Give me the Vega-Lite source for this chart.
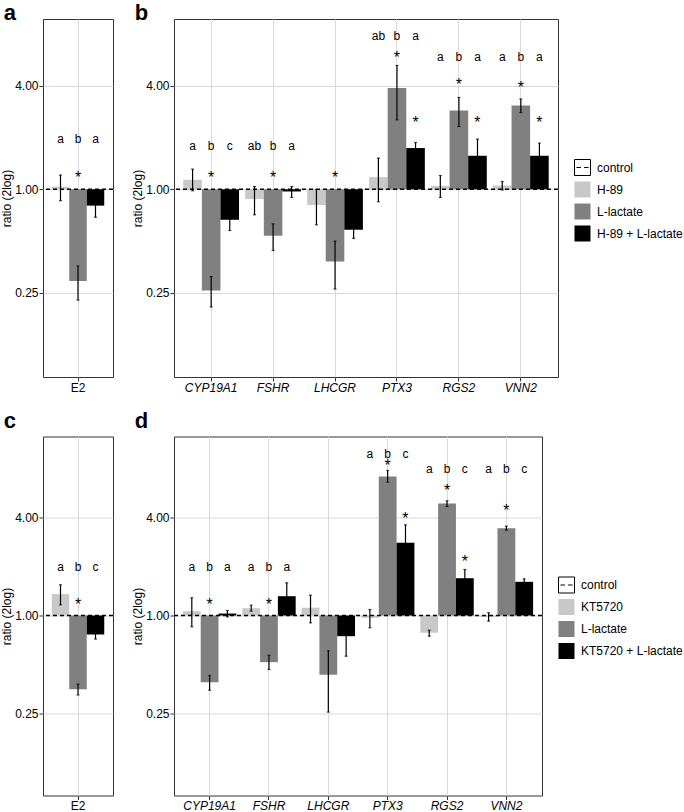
{
  "$schema": "https://vega.github.io/schema/vega-lite/v6.json",
  "padding": {"left": 0, "top": 1, "right": 0, "bottom": 0},
  "background": "white",
  "datasets": {
    "bars": [
      {"p": "a", "gene": "E2", "trt": "H-89", "v": 1.035, "lo": 0.858, "hi": 1.21},
      {"p": "a", "gene": "E2", "trt": "L-lactate", "v": 0.292, "lo": 0.226, "hi": 0.357},
      {"p": "a", "gene": "E2", "trt": "H-89 + L-lactate", "v": 0.803, "lo": 0.687, "hi": 0.919},
      {"p": "b", "gene": "CYP19A1", "trt": "H-89", "v": 1.136, "lo": 0.98, "hi": 1.311},
      {"p": "b", "gene": "CYP19A1", "trt": "L-lactate", "v": 0.257, "lo": 0.206, "hi": 0.31},
      {"p": "b", "gene": "CYP19A1", "trt": "H-89 + L-lactate", "v": 0.664, "lo": 0.575, "hi": 0.753},
      {"p": "b", "gene": "FSHR", "trt": "H-89", "v": 0.877, "lo": 0.71, "hi": 1.038},
      {"p": "b", "gene": "FSHR", "trt": "L-lactate", "v": 0.536, "lo": 0.44, "hi": 0.629},
      {"p": "b", "gene": "FSHR", "trt": "H-89 + L-lactate", "v": 0.971, "lo": 0.896, "hi": 1.038},
      {"p": "b", "gene": "LHCGR", "trt": "H-89", "v": 0.809, "lo": 0.621, "hi": 0.997},
      {"p": "b", "gene": "LHCGR", "trt": "L-lactate", "v": 0.379, "lo": 0.262, "hi": 0.499},
      {"p": "b", "gene": "LHCGR", "trt": "H-89 + L-lactate", "v": 0.581, "lo": 0.517, "hi": 0.645},
      {"p": "b", "gene": "PTX3", "trt": "H-89", "v": 1.178, "lo": 0.846, "hi": 1.52},
      {"p": "b", "gene": "PTX3", "trt": "L-lactate", "v": 3.89, "lo": 2.54, "hi": 5.27},
      {"p": "b", "gene": "PTX3", "trt": "H-89 + L-lactate", "v": 1.739, "lo": 1.6, "hi": 1.874},
      {"p": "b", "gene": "RGS2", "trt": "H-89", "v": 1.044, "lo": 0.896, "hi": 1.203},
      {"p": "b", "gene": "RGS2", "trt": "L-lactate", "v": 2.88, "lo": 2.32, "hi": 3.43},
      {"p": "b", "gene": "RGS2", "trt": "H-89 + L-lactate", "v": 1.568, "lo": 1.17, "hi": 1.962},
      {"p": "b", "gene": "VNN2", "trt": "H-89", "v": 1.052, "lo": 0.99, "hi": 1.11},
      {"p": "b", "gene": "VNN2", "trt": "L-lactate", "v": 3.08, "lo": 2.8, "hi": 3.36},
      {"p": "b", "gene": "VNN2", "trt": "H-89 + L-lactate", "v": 1.568, "lo": 1.28, "hi": 1.859},
      {"p": "c", "gene": "E2", "trt": "KT5720", "v": 1.352, "lo": 1.163, "hi": 1.542},
      {"p": "c", "gene": "E2", "trt": "L-lactate", "v": 0.354, "lo": 0.326, "hi": 0.38},
      {"p": "c", "gene": "E2", "trt": "KT5720 + L-lactate", "v": 0.765, "lo": 0.717, "hi": 0.81},
      {"p": "d", "gene": "CYP19A1", "trt": "KT5720", "v": 1.063, "lo": 0.853, "hi": 1.284},
      {"p": "d", "gene": "CYP19A1", "trt": "L-lactate", "v": 0.39, "lo": 0.349, "hi": 0.429},
      {"p": "d", "gene": "CYP19A1", "trt": "KT5720 + L-lactate", "v": 1.028, "lo": 0.98, "hi": 1.073},
      {"p": "d", "gene": "FSHR", "trt": "KT5720", "v": 1.108, "lo": 1.063, "hi": 1.157},
      {"p": "d", "gene": "FSHR", "trt": "L-lactate", "v": 0.518, "lo": 0.467, "hi": 0.571},
      {"p": "d", "gene": "FSHR", "trt": "KT5720 + L-lactate", "v": 1.313, "lo": 1.04, "hi": 1.586},
      {"p": "d", "gene": "LHCGR", "trt": "KT5720", "v": 1.115, "lo": 0.902, "hi": 1.331},
      {"p": "d", "gene": "LHCGR", "trt": "L-lactate", "v": 0.433, "lo": 0.256, "hi": 0.608},
      {"p": "d", "gene": "LHCGR", "trt": "KT5720 + L-lactate", "v": 0.747, "lo": 0.563, "hi": 0.93},
      {"p": "d", "gene": "PTX3", "trt": "KT5720", "v": 0.968, "lo": 0.841, "hi": 1.088},
      {"p": "d", "gene": "PTX3", "trt": "L-lactate", "v": 7.1, "lo": 6.55, "hi": 7.73},
      {"p": "d", "gene": "PTX3", "trt": "KT5720 + L-lactate", "v": 2.788, "lo": 1.99, "hi": 3.59},
      {"p": "d", "gene": "RGS2", "trt": "KT5720", "v": 0.784, "lo": 0.747, "hi": 0.813},
      {"p": "d", "gene": "RGS2", "trt": "L-lactate", "v": 4.85, "lo": 4.65, "hi": 5.04},
      {"p": "d", "gene": "RGS2", "trt": "KT5720 + L-lactate", "v": 1.692, "lo": 1.47, "hi": 1.913},
      {"p": "d", "gene": "VNN2", "trt": "KT5720", "v": 0.98, "lo": 0.923, "hi": 1.04},
      {"p": "d", "gene": "VNN2", "trt": "L-lactate", "v": 3.42, "lo": 3.33, "hi": 3.52},
      {"p": "d", "gene": "VNN2", "trt": "KT5720 + L-lactate", "v": 1.608, "lo": 1.54, "hi": 1.677}
    ],
    "labels": [
      {"p": "a", "gene": "E2", "trt": "H-89", "k": "l", "t": "a", "y": 1.956},
      {"p": "a", "gene": "E2", "trt": "L-lactate", "k": "l", "t": "b", "y": 1.956},
      {"p": "a", "gene": "E2", "trt": "H-89 + L-lactate", "k": "l", "t": "a", "y": 1.956},
      {"p": "a", "gene": "E2", "trt": "L-lactate", "k": "s", "t": "*", "y": 1.24},
      {"p": "b", "gene": "CYP19A1", "trt": "H-89", "k": "l", "t": "a", "y": 1.776},
      {"p": "b", "gene": "CYP19A1", "trt": "L-lactate", "k": "l", "t": "b", "y": 1.776},
      {"p": "b", "gene": "CYP19A1", "trt": "H-89 + L-lactate", "k": "l", "t": "c", "y": 1.776},
      {"p": "b", "gene": "FSHR", "trt": "H-89", "k": "l", "t": "ab", "y": 1.776},
      {"p": "b", "gene": "FSHR", "trt": "L-lactate", "k": "l", "t": "b", "y": 1.776},
      {"p": "b", "gene": "FSHR", "trt": "H-89 + L-lactate", "k": "l", "t": "a", "y": 1.776},
      {"p": "b", "gene": "PTX3", "trt": "H-89", "k": "l", "t": "ab", "y": 7.85},
      {"p": "b", "gene": "PTX3", "trt": "L-lactate", "k": "l", "t": "b", "y": 7.85},
      {"p": "b", "gene": "PTX3", "trt": "H-89 + L-lactate", "k": "l", "t": "a", "y": 7.85},
      {"p": "b", "gene": "RGS2", "trt": "H-89", "k": "l", "t": "a", "y": 5.94},
      {"p": "b", "gene": "RGS2", "trt": "L-lactate", "k": "l", "t": "b", "y": 5.94},
      {"p": "b", "gene": "RGS2", "trt": "H-89 + L-lactate", "k": "l", "t": "a", "y": 5.94},
      {"p": "b", "gene": "VNN2", "trt": "H-89", "k": "l", "t": "a", "y": 5.94},
      {"p": "b", "gene": "VNN2", "trt": "L-lactate", "k": "l", "t": "b", "y": 5.94},
      {"p": "b", "gene": "VNN2", "trt": "H-89 + L-lactate", "k": "l", "t": "a", "y": 5.94},
      {"p": "b", "gene": "CYP19A1", "trt": "L-lactate", "k": "s", "t": "*", "y": 1.243},
      {"p": "b", "gene": "FSHR", "trt": "L-lactate", "k": "s", "t": "*", "y": 1.243},
      {"p": "b", "gene": "LHCGR", "trt": "L-lactate", "k": "s", "t": "*", "y": 1.243},
      {"p": "b", "gene": "PTX3", "trt": "L-lactate", "k": "s", "t": "*", "y": 6.22},
      {"p": "b", "gene": "PTX3", "trt": "H-89 + L-lactate", "k": "s", "t": "*", "y": 2.6},
      {"p": "b", "gene": "RGS2", "trt": "L-lactate", "k": "s", "t": "*", "y": 4.35},
      {"p": "b", "gene": "RGS2", "trt": "H-89 + L-lactate", "k": "s", "t": "*", "y": 2.6},
      {"p": "b", "gene": "VNN2", "trt": "L-lactate", "k": "s", "t": "*", "y": 4.16},
      {"p": "b", "gene": "VNN2", "trt": "H-89 + L-lactate", "k": "s", "t": "*", "y": 2.6},
      {"p": "c", "gene": "E2", "trt": "KT5720", "k": "l", "t": "a", "y": 1.968},
      {"p": "c", "gene": "E2", "trt": "L-lactate", "k": "l", "t": "b", "y": 1.968},
      {"p": "c", "gene": "E2", "trt": "KT5720 + L-lactate", "k": "l", "t": "c", "y": 1.968},
      {"p": "c", "gene": "E2", "trt": "L-lactate", "k": "s", "t": "*", "y": 1.236},
      {"p": "d", "gene": "CYP19A1", "trt": "KT5720", "k": "l", "t": "a", "y": 1.987},
      {"p": "d", "gene": "CYP19A1", "trt": "L-lactate", "k": "l", "t": "b", "y": 1.987},
      {"p": "d", "gene": "CYP19A1", "trt": "KT5720 + L-lactate", "k": "l", "t": "a", "y": 1.987},
      {"p": "d", "gene": "FSHR", "trt": "KT5720", "k": "l", "t": "a", "y": 1.987},
      {"p": "d", "gene": "FSHR", "trt": "L-lactate", "k": "l", "t": "b", "y": 1.987},
      {"p": "d", "gene": "FSHR", "trt": "KT5720 + L-lactate", "k": "l", "t": "a", "y": 1.987},
      {"p": "d", "gene": "PTX3", "trt": "KT5720", "k": "l", "t": "a", "y": 9.69},
      {"p": "d", "gene": "PTX3", "trt": "L-lactate", "k": "l", "t": "b", "y": 9.69},
      {"p": "d", "gene": "PTX3", "trt": "KT5720 + L-lactate", "k": "l", "t": "c", "y": 9.69},
      {"p": "d", "gene": "RGS2", "trt": "KT5720", "k": "l", "t": "a", "y": 7.84},
      {"p": "d", "gene": "RGS2", "trt": "L-lactate", "k": "l", "t": "b", "y": 7.84},
      {"p": "d", "gene": "RGS2", "trt": "KT5720 + L-lactate", "k": "l", "t": "c", "y": 7.84},
      {"p": "d", "gene": "VNN2", "trt": "KT5720", "k": "l", "t": "a", "y": 7.84},
      {"p": "d", "gene": "VNN2", "trt": "L-lactate", "k": "l", "t": "b", "y": 7.84},
      {"p": "d", "gene": "VNN2", "trt": "KT5720 + L-lactate", "k": "l", "t": "c", "y": 7.84},
      {"p": "d", "gene": "CYP19A1", "trt": "L-lactate", "k": "s", "t": "*", "y": 1.253},
      {"p": "d", "gene": "FSHR", "trt": "L-lactate", "k": "s", "t": "*", "y": 1.253},
      {"p": "d", "gene": "PTX3", "trt": "L-lactate", "k": "s", "t": "*", "y": 8.81},
      {"p": "d", "gene": "PTX3", "trt": "KT5720 + L-lactate", "k": "s", "t": "*", "y": 4.16},
      {"p": "d", "gene": "RGS2", "trt": "L-lactate", "k": "s", "t": "*", "y": 6.19},
      {"p": "d", "gene": "RGS2", "trt": "KT5720 + L-lactate", "k": "s", "t": "*", "y": 2.276},
      {"p": "d", "gene": "VNN2", "trt": "L-lactate", "k": "s", "t": "*", "y": 4.67}
    ]
  },
  "resolve": {"scale": {"x": "independent", "y": "independent", "xOffset": "independent", "color": "independent"}, "legend": {"color": "independent"}, "axis": {"x": "independent", "y": "independent"}},
  "spacing": 14.5,
  "vconcat": [
    {
      "spacing": 16,
      "resolve": {"scale": {"x": "independent", "y": "independent", "xOffset": "independent", "color": "independent"}, "legend": {"color": "independent"}, "axis": {"x": "independent", "y": "independent"}},
      "hconcat": [
        {
          "width": 70, "height": 358,
          "title": {"text": "a", "offset": -5.5, "dx": 3},
          "data": {"name": "bars"},
          "transform": [{"filter": "datum.p === 'a'"}],
          "layer": [
            {"mark": {"type": "bar"},
             "encoding": {
               "x": {"field": "gene", "type": "nominal", "scale": {"domain": ["E2"], "paddingInner": 0.1, "paddingOuter": 0.15}, "axis": {"title": null, "grid": true, "bandPosition": 0.5, "labelAngle": 0}},
               "xOffset": {"field": "trt", "type": "nominal", "scale": {"domain": ["H-89", "L-lactate", "H-89 + L-lactate"], "paddingInner": 0, "paddingOuter": 0}},
               "y": {"field": "v", "type": "quantitative", "scale": {"type": "log", "domain": [0.0805, 9.83], "nice": false, "zero": false}, "axis": {"title": "ratio (2log)", "values": [0.25, 1, 4], "format": ".2f", "grid": true}},
               "y2": {"datum": 1},
               "color": {"field": "trt", "type": "nominal", "scale": {"domain": ["control", "H-89", "L-lactate", "H-89 + L-lactate"], "range": ["white", "#c8c8c8", "#808080", "black"]}, "legend": null}
             }},
            {"mark": {"type": "rule", "color": "black", "strokeWidth": 1.2},
             "encoding": {"x": {"field": "gene", "type": "nominal"}, "xOffset": {"field": "trt", "type": "nominal"}, "y": {"field": "lo", "type": "quantitative"}, "y2": {"field": "hi"}}},
            {"mark": {"type": "tick", "color": "black", "size": 3, "thickness": 1.2},
             "encoding": {"x": {"field": "gene", "type": "nominal"}, "xOffset": {"field": "trt", "type": "nominal"}, "y": {"field": "lo", "type": "quantitative"}}},
            {"mark": {"type": "tick", "color": "black", "size": 3, "thickness": 1.2},
             "encoding": {"x": {"field": "gene", "type": "nominal"}, "xOffset": {"field": "trt", "type": "nominal"}, "y": {"field": "hi", "type": "quantitative"}}},
            {"data": {"values": [{}]}, "mark": {"type": "rule", "color": "black", "strokeDash": [4, 3], "strokeWidth": 1.5}, "encoding": {"y": {"datum": 1}}},
            {"data": {"name": "labels"}, "transform": [{"filter": "datum.p === 'a' && datum.k === 'l'"}],
             "mark": {"type": "text", "fontSize": 12, "baseline": "middle", "color": "black"},
             "encoding": {"x": {"field": "gene", "type": "nominal"}, "xOffset": {"field": "trt", "type": "nominal"}, "y": {"field": "y", "type": "quantitative"}, "text": {"field": "t"}}},
            {"data": {"name": "labels"}, "transform": [{"filter": "datum.p === 'a' && datum.k === 's'"}],
             "mark": {"type": "text", "fontSize": 16, "baseline": "middle", "dy": 5, "color": "black"},
             "encoding": {"x": {"field": "gene", "type": "nominal"}, "xOffset": {"field": "trt", "type": "nominal"}, "y": {"field": "y", "type": "quantitative"}, "text": {"field": "t"}}}
          ]
        },
        {
          "width": 384, "height": 358,
          "title": {"text": "b", "offset": -5.5, "dx": 3},
          "data": {"name": "bars"},
          "transform": [{"filter": "datum.p === 'b'"}],
          "layer": [
            {"mark": {"type": "bar"},
             "encoding": {
               "x": {"field": "gene", "type": "nominal", "scale": {"domain": ["CYP19A1", "FSHR", "LHCGR", "PTX3", "RGS2", "VNN2"], "paddingInner": 0.1, "paddingOuter": 0.15}, "axis": {"title": null, "grid": true, "bandPosition": 0.5, "labelAngle": 0, "labelFontStyle": "italic"}},
               "xOffset": {"field": "trt", "type": "nominal", "scale": {"domain": ["H-89", "L-lactate", "H-89 + L-lactate"], "paddingInner": 0, "paddingOuter": 0}},
               "y": {"field": "v", "type": "quantitative", "scale": {"type": "log", "domain": [0.0805, 9.83], "nice": false, "zero": false}, "axis": {"title": "ratio (2log)", "values": [0.25, 1, 4], "format": ".2f", "grid": true}},
               "y2": {"datum": 1},
               "color": {"field": "trt", "type": "nominal", "scale": {"domain": ["control", "H-89", "L-lactate", "H-89 + L-lactate"], "range": ["white", "#c8c8c8", "#808080", "black"]},
                 "legend": {"title": null, "orient": "none", "legendX": 400, "legendY": 140, "symbolType": "square", "symbolSize": 256, "labelFontSize": 12, "labelColor": "black", "rowPadding": 1, "labelOffset": 6, "labelLimit": 200,
                   "encode": {"symbols": {"update": {
                     "shape": {"signal": "datum.value === 'control' ? 'M-1,-1H1V1H-1Z M-0.75,0H-0.2 M0.2,0H0.75' : 'square'"},
                     "stroke": {"signal": "datum.value === 'control' ? 'black' : 'transparent'"},
                     "strokeWidth": {"value": 1}}}}}}
             }},
            {"mark": {"type": "rule", "color": "black", "strokeWidth": 1.2},
             "encoding": {"x": {"field": "gene", "type": "nominal"}, "xOffset": {"field": "trt", "type": "nominal"}, "y": {"field": "lo", "type": "quantitative"}, "y2": {"field": "hi"}}},
            {"mark": {"type": "tick", "color": "black", "size": 3, "thickness": 1.2},
             "encoding": {"x": {"field": "gene", "type": "nominal"}, "xOffset": {"field": "trt", "type": "nominal"}, "y": {"field": "lo", "type": "quantitative"}}},
            {"mark": {"type": "tick", "color": "black", "size": 3, "thickness": 1.2},
             "encoding": {"x": {"field": "gene", "type": "nominal"}, "xOffset": {"field": "trt", "type": "nominal"}, "y": {"field": "hi", "type": "quantitative"}}},
            {"data": {"values": [{}]}, "mark": {"type": "rule", "color": "black", "strokeDash": [4, 3], "strokeWidth": 1.5}, "encoding": {"y": {"datum": 1}}},
            {"data": {"name": "labels"}, "transform": [{"filter": "datum.p === 'b' && datum.k === 'l'"}],
             "mark": {"type": "text", "fontSize": 12, "baseline": "middle", "color": "black"},
             "encoding": {"x": {"field": "gene", "type": "nominal"}, "xOffset": {"field": "trt", "type": "nominal"}, "y": {"field": "y", "type": "quantitative"}, "text": {"field": "t"}}},
            {"data": {"name": "labels"}, "transform": [{"filter": "datum.p === 'b' && datum.k === 's'"}],
             "mark": {"type": "text", "fontSize": 16, "baseline": "middle", "dy": 5, "color": "black"},
             "encoding": {"x": {"field": "gene", "type": "nominal"}, "xOffset": {"field": "trt", "type": "nominal"}, "y": {"field": "y", "type": "quantitative"}, "text": {"field": "t"}}}
          ]
        }
      ]
    },
    {
      "spacing": 16,
      "resolve": {"scale": {"x": "independent", "y": "independent", "xOffset": "independent", "color": "independent"}, "legend": {"color": "independent"}, "axis": {"x": "independent", "y": "independent"}},
      "hconcat": [
        {
          "width": 70, "height": 359,
          "title": {"text": "c", "dx": 3},
          "data": {"name": "bars"},
          "transform": [{"filter": "datum.p === 'c'"}],
          "layer": [
            {"mark": {"type": "bar"},
             "encoding": {
               "x": {"field": "gene", "type": "nominal", "scale": {"domain": ["E2"], "paddingInner": 0.1, "paddingOuter": 0.15}, "axis": {"title": null, "grid": true, "bandPosition": 0.5, "labelAngle": 0}},
               "xOffset": {"field": "trt", "type": "nominal", "scale": {"domain": ["KT5720", "L-lactate", "KT5720 + L-lactate"], "paddingInner": 0, "paddingOuter": 0}},
               "y": {"field": "v", "type": "quantitative", "scale": {"type": "log", "domain": [0.079, 12.48], "nice": false, "zero": false}, "axis": {"title": "ratio (2log)", "values": [0.25, 1, 4], "format": ".2f", "grid": true}},
               "y2": {"datum": 1},
               "color": {"field": "trt", "type": "nominal", "scale": {"domain": ["control", "KT5720", "L-lactate", "KT5720 + L-lactate"], "range": ["white", "#c8c8c8", "#808080", "black"]}, "legend": null}
             }},
            {"mark": {"type": "rule", "color": "black", "strokeWidth": 1.2},
             "encoding": {"x": {"field": "gene", "type": "nominal"}, "xOffset": {"field": "trt", "type": "nominal"}, "y": {"field": "lo", "type": "quantitative"}, "y2": {"field": "hi"}}},
            {"mark": {"type": "tick", "color": "black", "size": 3, "thickness": 1.2},
             "encoding": {"x": {"field": "gene", "type": "nominal"}, "xOffset": {"field": "trt", "type": "nominal"}, "y": {"field": "lo", "type": "quantitative"}}},
            {"mark": {"type": "tick", "color": "black", "size": 3, "thickness": 1.2},
             "encoding": {"x": {"field": "gene", "type": "nominal"}, "xOffset": {"field": "trt", "type": "nominal"}, "y": {"field": "hi", "type": "quantitative"}}},
            {"data": {"values": [{}]}, "mark": {"type": "rule", "color": "black", "strokeDash": [4, 3], "strokeWidth": 1.5}, "encoding": {"y": {"datum": 1}}},
            {"data": {"name": "labels"}, "transform": [{"filter": "datum.p === 'c' && datum.k === 'l'"}],
             "mark": {"type": "text", "fontSize": 12, "baseline": "middle", "color": "black"},
             "encoding": {"x": {"field": "gene", "type": "nominal"}, "xOffset": {"field": "trt", "type": "nominal"}, "y": {"field": "y", "type": "quantitative"}, "text": {"field": "t"}}},
            {"data": {"name": "labels"}, "transform": [{"filter": "datum.p === 'c' && datum.k === 's'"}],
             "mark": {"type": "text", "fontSize": 16, "baseline": "middle", "dy": 5, "color": "black"},
             "encoding": {"x": {"field": "gene", "type": "nominal"}, "xOffset": {"field": "trt", "type": "nominal"}, "y": {"field": "y", "type": "quantitative"}, "text": {"field": "t"}}}
          ]
        },
        {
          "width": 368, "height": 359,
          "title": {"text": "d", "dx": 3},
          "data": {"name": "bars"},
          "transform": [{"filter": "datum.p === 'd'"}],
          "layer": [
            {"mark": {"type": "bar"},
             "encoding": {
               "x": {"field": "gene", "type": "nominal", "scale": {"domain": ["CYP19A1", "FSHR", "LHCGR", "PTX3", "RGS2", "VNN2"], "paddingInner": 0.1, "paddingOuter": 0.15}, "axis": {"title": null, "grid": true, "bandPosition": 0.5, "labelAngle": 0, "labelFontStyle": "italic"}},
               "xOffset": {"field": "trt", "type": "nominal", "scale": {"domain": ["KT5720", "L-lactate", "KT5720 + L-lactate"], "paddingInner": 0, "paddingOuter": 0}},
               "y": {"field": "v", "type": "quantitative", "scale": {"type": "log", "domain": [0.079, 12.48], "nice": false, "zero": false}, "axis": {"title": "ratio (2log)", "values": [0.25, 1, 4], "format": ".2f", "grid": true}},
               "y2": {"datum": 1},
               "color": {"field": "trt", "type": "nominal", "scale": {"domain": ["control", "KT5720", "L-lactate", "KT5720 + L-lactate"], "range": ["white", "#c8c8c8", "#808080", "black"]},
                 "legend": {"title": null, "orient": "none", "legendX": 384, "legendY": 140, "symbolType": "square", "symbolSize": 256, "labelFontSize": 12, "labelColor": "black", "rowPadding": 1, "labelOffset": 6, "labelLimit": 200,
                   "encode": {"symbols": {"update": {
                     "shape": {"signal": "datum.value === 'control' ? 'M-1,-1H1V1H-1Z M-0.75,0H-0.2 M0.2,0H0.75' : 'square'"},
                     "stroke": {"signal": "datum.value === 'control' ? 'black' : 'transparent'"},
                     "strokeWidth": {"value": 1}}}}}}
             }},
            {"mark": {"type": "rule", "color": "black", "strokeWidth": 1.2},
             "encoding": {"x": {"field": "gene", "type": "nominal"}, "xOffset": {"field": "trt", "type": "nominal"}, "y": {"field": "lo", "type": "quantitative"}, "y2": {"field": "hi"}}},
            {"mark": {"type": "tick", "color": "black", "size": 3, "thickness": 1.2},
             "encoding": {"x": {"field": "gene", "type": "nominal"}, "xOffset": {"field": "trt", "type": "nominal"}, "y": {"field": "lo", "type": "quantitative"}}},
            {"mark": {"type": "tick", "color": "black", "size": 3, "thickness": 1.2},
             "encoding": {"x": {"field": "gene", "type": "nominal"}, "xOffset": {"field": "trt", "type": "nominal"}, "y": {"field": "hi", "type": "quantitative"}}},
            {"data": {"values": [{}]}, "mark": {"type": "rule", "color": "black", "strokeDash": [4, 3], "strokeWidth": 1.5}, "encoding": {"y": {"datum": 1}}},
            {"data": {"name": "labels"}, "transform": [{"filter": "datum.p === 'd' && datum.k === 'l'"}],
             "mark": {"type": "text", "fontSize": 12, "baseline": "middle", "color": "black"},
             "encoding": {"x": {"field": "gene", "type": "nominal"}, "xOffset": {"field": "trt", "type": "nominal"}, "y": {"field": "y", "type": "quantitative"}, "text": {"field": "t"}}},
            {"data": {"name": "labels"}, "transform": [{"filter": "datum.p === 'd' && datum.k === 's'"}],
             "mark": {"type": "text", "fontSize": 16, "baseline": "middle", "dy": 5, "color": "black"},
             "encoding": {"x": {"field": "gene", "type": "nominal"}, "xOffset": {"field": "trt", "type": "nominal"}, "y": {"field": "y", "type": "quantitative"}, "text": {"field": "t"}}}
          ]
        }
      ]
    }
  ],
  "config": {
    "font": "Liberation Sans",
    "view": {"stroke": "#333333", "strokeWidth": 1},
    "axis": {"labelFont": "Liberation Sans", "labelFontSize": 12, "labelColor": "black", "titleFont": "Liberation Sans", "titleFontSize": 12, "titleFontWeight": "normal", "titleColor": "black", "tickColor": "#333333", "tickSize": 4, "labelPadding": 1, "titlePadding": 1, "domain": false, "gridColor": "#d9d9d9", "gridWidth": 1},
    "legend": {"labelFont": "Liberation Sans"},
    "title": {"anchor": "start", "frame": "bounds", "fontSize": 22, "fontWeight": "bold", "color": "black", "font": "Liberation Sans", "offset": 0}
  }
}
